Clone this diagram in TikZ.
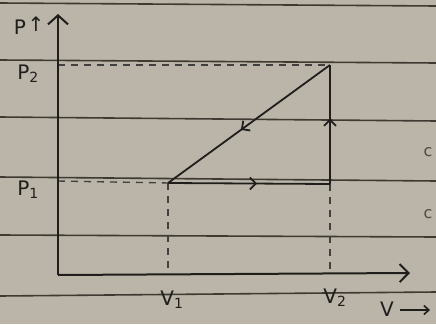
\documentclass[tikz,border=0pt]{standalone}
\usepackage{fontspec}
\setmainfont{DejaVu Sans}
\usetikzlibrary{arrows.meta,decorations.markings}
\definecolor{paper}{RGB}{186,181,168}
\definecolor{rule}{RGB}{62,58,50}
\definecolor{ink}{RGB}{32,30,28}
\tikzset{
  ruleline/.style={draw=rule,line width=1.6pt},
  axisline/.style={draw=ink,line width=2pt},
  guide/.style={draw=ink!85,line width=1.4pt,dash pattern=on 7pt off 6pt},
  pathline/.style={draw=ink,line width=1.8pt},
  lbl/.style={text=ink,font=\fontsize{20}{22}\selectfont,inner sep=0pt},
  edgemark/.style={text=ink!70!paper,font=\fontsize{16}{18}\selectfont,inner sep=0pt},
  midarrow/.style={postaction={decorate},decoration={markings,mark=at position #1 with {\arrow[ink,line width=1.8pt]{Straight Barb[length=6pt,width=12pt]}}}}
}
\begin{document}
\begin{tikzpicture}[x=1pt,y=-1pt]
\fill[paper] (0,0) rectangle (436,324);
\useasboundingbox (0,0) rectangle (436,324);
% ruled paper lines
\draw[ruleline] (0,3) -- (436,6);
\draw[ruleline] (0,60) -- (436,63);
\draw[ruleline] (0,117) -- (436,121);
\draw[ruleline] (0,177) -- (436,181);
\draw[ruleline] (0,235) -- (436,237);
\draw[ruleline] (0,296) -- (436,292);
% key points
\coordinate (O) at (58,275);
\coordinate (ytop) at (58,14);
\coordinate (xend) at (410,273);
\coordinate (A) at (168,183);
\coordinate (B) at (330,184);
\coordinate (C) at (330,65);
\coordinate (P2y) at (58,65);
\coordinate (P1y) at (58,181);
\coordinate (V1x) at (168,275);
\coordinate (V2x) at (330,274);
% guides
\draw[guide] (P2y) -- (C);
\draw[guide] (P1y) -- (A);
\draw[guide] (A) -- (V1x);
\draw[guide] (B) -- (V2x);
% axes
\draw[axisline,-{Straight Barb[length=9pt,width=20pt]}] (O) -- (ytop);
\draw[axisline,-{Straight Barb[length=9pt,width=18pt]}] (O) -- (xend);
% cycle
\draw[pathline,midarrow=0.55] (A) -- (B);
\draw[pathline,midarrow=0.55] (B) -- (C);
\draw[pathline,midarrow=0.55] (C) -- (A);
% labels
\node[lbl] (lP) at (20,27) {P};
\node[lbl] (lParr) at (36,24) {↑};
\node[lbl] (lP2) at (28,74) {P\textsubscript{2}};
\node[lbl] (lP1) at (28,190) {P\textsubscript{1}};
\node[lbl] (lV1) at (172,300) {V\textsubscript{1}};
\node[lbl] (lV2) at (335,298) {V\textsubscript{2}};
\node[lbl] (lV) at (387,309) {V};
\draw[ink,line width=1.6pt,-{Straight Barb[length=5pt,width=9pt]}] (lV.east) ++(6,1) coordinate (vs) -- ++(30,0) coordinate (ve);
\node[edgemark] (c1) at (428,152) {c};
\node[edgemark] (c2) at (428,214) {c};
\end{tikzpicture}
\end{document}
